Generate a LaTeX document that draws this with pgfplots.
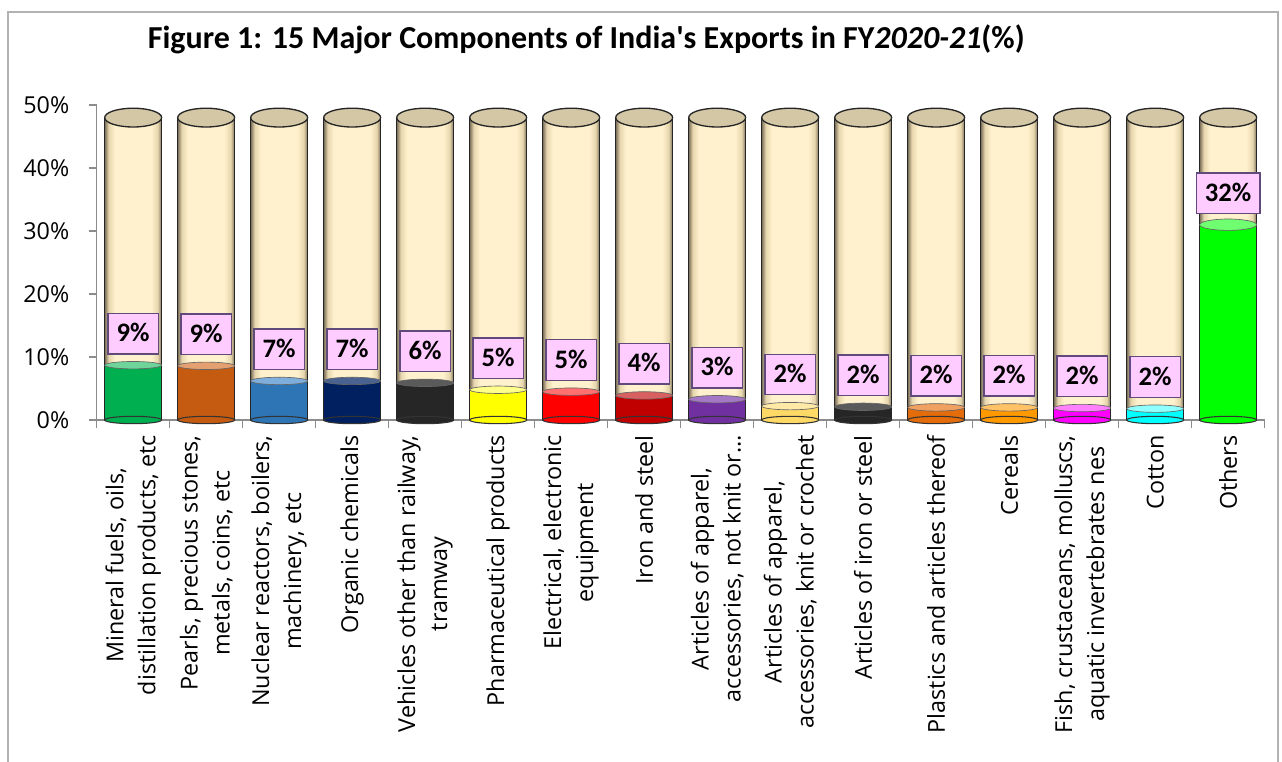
\documentclass[border=0pt]{standalone}
\usepackage{pgfplots}
\pgfplotsset{compat=1.18}
\usepackage{pgfplotstable}
\usepackage{fontspec}
\setmainfont{Open Sans}
\newfontfamily\calibri{Carlito}

\definecolor{cedge}{HTML}{7A6E58}
\definecolor{cmid2}{HTML}{E6D6AE}
\definecolor{cmid}{HTML}{FFF1CD}
\definecolor{ctop}{HTML}{D3C7A5}
\definecolor{lpink}{HTML}{FFCCFF}
\definecolor{lpurple}{HTML}{604A7B}
\definecolor{axgray}{HTML}{8C8C8C}

\definecolor{c0}{HTML}{00B050}\definecolor{t0}{HTML}{6FD49A}
\definecolor{c1}{HTML}{C55A11}\definecolor{t1}{HTML}{E4A070}
\definecolor{c2}{HTML}{2E75B6}\definecolor{t2}{HTML}{7EAEDB}
\definecolor{c3}{HTML}{002060}\definecolor{t3}{HTML}{4A6290}
\definecolor{c4}{HTML}{262626}\definecolor{t4}{HTML}{5A5A5A}
\definecolor{c5}{HTML}{FFFF00}\definecolor{t5}{HTML}{FFFF8A}
\definecolor{c6}{HTML}{FF0000}\definecolor{t6}{HTML}{FF7070}
\definecolor{c7}{HTML}{C00000}\definecolor{t7}{HTML}{D86060}
\definecolor{c8}{HTML}{7030A0}\definecolor{t8}{HTML}{A478C4}
\definecolor{c9}{HTML}{FFD966}\definecolor{t9}{HTML}{FFE9A6}
\definecolor{c10}{HTML}{262626}\definecolor{t10}{HTML}{5A5A5A}
\definecolor{c11}{HTML}{E46C0A}\definecolor{t11}{HTML}{F0A060}
\definecolor{c12}{HTML}{FF9900}\definecolor{t12}{HTML}{FFC266}
\definecolor{c13}{HTML}{FF00FF}\definecolor{t13}{HTML}{FF80FF}
\definecolor{c14}{HTML}{00FFFF}\definecolor{t14}{HTML}{90FFFF}
\definecolor{c15}{HTML}{00FF00}\definecolor{t15}{HTML}{70FF70}

\pgfdeclarehorizontalshading{cylbeige}{100bp}{color(0bp)=(cedge); color(25bp)=(cedge); color(28.5bp)=(cmid2); color(34bp)=(cmid); color(66bp)=(cmid); color(71.5bp)=(cmid2); color(75bp)=(cedge); color(100bp)=(cedge)}

\pgfplotstableread{
x v lab
0 8.7 9
1 8.6 9
2 6.2 7
3 6.2 7
4 5.9 6
5 4.8 5
6 4.5 5
7 3.9 4
8 3.3 3
9 2.2 2
10 2.1 2
11 2.0 2
12 2.0 2
13 1.9 2
14 1.8 2
15 31.0 32
}\datatable

\pgfplotstableread{
x v
0 48
1 48
2 48
3 48
4 48
5 48
6 48
7 48
8 48
9 48
10 48
11 48
12 48
13 48
14 48
15 48
}\bgtable

\begin{document}
\begin{tikzpicture}
\path[use as bounding box] (0,0) rectangle (961.5pt,570.75pt);
\draw[gray!60, line width=0.8pt] (6pt,-3pt) -- (6pt,561.75pt) -- (958.5pt,561.75pt) -- (958.5pt,-3pt);
\node[anchor=base, font=\calibri\bfseries\fontsize{24}{28}\selectfont] at (439.75pt,534pt)
  {Figure 1: 15 Major Components of India's Exports in FY\textit{2020-21}(\%)};
\begin{axis}[
  at={(72.5pt,255.75pt)}, anchor=south west,
  scale only axis, width=876pt, height=236.25pt,
  xmin=-0.5, xmax=15.5, ymin=0, ymax=50,
  clip=false,
  axis lines*=left,
  axis line style={axgray, line width=0.8pt},
  tick align=outside,
  ytick={0,10,20,30,40,50},
  yticklabels={0\%,10\%,20\%,30\%,40\%,50\%},
  ytick style={axgray, line width=0.8pt},
  major tick length=6pt,
  minor tick length=6pt,
  xtick={0,...,15},
  minor xtick={-0.5,0.5,...,15.5},
  major x tick style={draw=none},
  minor x tick style={axgray, line width=0.8pt},
  yticklabel style={font=\fontsize{17.5}{24}\selectfont, xshift=-11pt},
  xticklabel style={font=\fontsize{17.5}{24}\selectfont, yshift=-2pt, rotate=90, anchor=east, align=center},
  xticklabels={
    {Mineral fuels, oils,\\distillation products, etc},
    {Pearls, precious stones,\\metals, coins, etc},
    {Nuclear reactors, boilers,\\machinery, etc},
    {Organic chemicals},
    {Vehicles other than railway,\\tramway},
    {Pharmaceutical products},
    {Electrical, electronic\\equipment},
    {Iron and steel},
    {Articles of apparel,\\accessories, not knit or…},
    {Articles of apparel,\\accessories, knit or crochet},
    {Articles of iron or steel},
    {Plastics and articles thereof},
    {Cereals},
    {Fish, crustaceans, molluscs,\\aquatic invertebrates nes},
    {Cotton},
    {Others}},
  mybar/.style={ybar, bar width=0.78, bar shift=0pt, draw=none},
  bgbar/.style={ybar, bar width=0.78, bar shift=0pt, draw=none, shade, shading=cylbeige},
  botell/.style={only marks, mark=*, mark size=21.35pt, mark options={yscale=0.13}, draw=black!80, line width=0.8pt},
  topell/.style={only marks, mark=*, mark size=21.35pt, mark options={yscale=0.13}, draw=black!60, line width=0.5pt},
]
% background cylinders
\addplot[bgbar] coordinates {(0,48)};
\addplot[bgbar] coordinates {(1,48)};
\addplot[bgbar] coordinates {(2,48)};
\addplot[bgbar] coordinates {(3,48)};
\addplot[bgbar] coordinates {(4,48)};
\addplot[bgbar] coordinates {(5,48)};
\addplot[bgbar] coordinates {(6,48)};
\addplot[bgbar] coordinates {(7,48)};
\addplot[bgbar] coordinates {(8,48)};
\addplot[bgbar] coordinates {(9,48)};
\addplot[bgbar] coordinates {(10,48)};
\addplot[bgbar] coordinates {(11,48)};
\addplot[bgbar] coordinates {(12,48)};
\addplot[bgbar] coordinates {(13,48)};
\addplot[bgbar] coordinates {(14,48)};
\addplot[bgbar] coordinates {(15,48)};
% bottom ellipses
\addplot[botell, fill=c0] coordinates {(0,0)};
\addplot[botell, fill=c1] coordinates {(1,0)};
\addplot[botell, fill=c2] coordinates {(2,0)};
\addplot[botell, fill=c3] coordinates {(3,0)};
\addplot[botell, fill=c4] coordinates {(4,0)};
\addplot[botell, fill=c5] coordinates {(5,0)};
\addplot[botell, fill=c6] coordinates {(6,0)};
\addplot[botell, fill=c7] coordinates {(7,0)};
\addplot[botell, fill=c8] coordinates {(8,0)};
\addplot[botell, fill=c9] coordinates {(9,0)};
\addplot[botell, fill=c10] coordinates {(10,0)};
\addplot[botell, fill=c11] coordinates {(11,0)};
\addplot[botell, fill=c12] coordinates {(12,0)};
\addplot[botell, fill=c13] coordinates {(13,0)};
\addplot[botell, fill=c14] coordinates {(14,0)};
\addplot[botell, fill=c15] coordinates {(15,0)};
% cylinder outlines
\addplot[ybar, bar width=0.78, bar shift=0pt, fill=none, draw=black!85, line width=1pt] table[x=x, y=v] {\bgtable};
% coloured fills
\addplot[mybar, fill=c0] coordinates {(0,8.7)};
\addplot[mybar, fill=c1] coordinates {(1,8.6)};
\addplot[mybar, fill=c2] coordinates {(2,6.2)};
\addplot[mybar, fill=c3] coordinates {(3,6.2)};
\addplot[mybar, fill=c4] coordinates {(4,5.9)};
\addplot[mybar, fill=c5] coordinates {(5,4.8)};
\addplot[mybar, fill=c6] coordinates {(6,4.5)};
\addplot[mybar, fill=c7] coordinates {(7,3.9)};
\addplot[mybar, fill=c8] coordinates {(8,3.3)};
\addplot[mybar, fill=c9] coordinates {(9,2.2)};
\addplot[mybar, fill=c10] coordinates {(10,2.1)};
\addplot[mybar, fill=c11] coordinates {(11,2.0)};
\addplot[mybar, fill=c12] coordinates {(12,2.0)};
\addplot[mybar, fill=c13] coordinates {(13,1.9)};
\addplot[mybar, fill=c14] coordinates {(14,1.8)};
\addplot[mybar, fill=c15] coordinates {(15,31.0)};
% cylinder side lines over the fills
\addplot[ybar, bar width=0.78, bar shift=0pt, fill=none, draw=black!85, line width=0.8pt] table[x=x, y=v] {\datatable};
% fill-top ellipses
\addplot[topell, fill=t0] coordinates {(0,8.7)};
\addplot[topell, fill=t1] coordinates {(1,8.6)};
\addplot[topell, fill=t2] coordinates {(2,6.2)};
\addplot[topell, fill=t3] coordinates {(3,6.2)};
\addplot[topell, fill=t4] coordinates {(4,5.9)};
\addplot[topell, fill=t5] coordinates {(5,4.8)};
\addplot[topell, fill=t6] coordinates {(6,4.5)};
\addplot[topell, fill=t7] coordinates {(7,3.9)};
\addplot[topell, fill=t8] coordinates {(8,3.3)};
\addplot[topell, fill=t9] coordinates {(9,2.2)};
\addplot[topell, fill=t10] coordinates {(10,2.1)};
\addplot[topell, fill=t11] coordinates {(11,2.0)};
\addplot[topell, fill=t12] coordinates {(12,2.0)};
\addplot[topell, fill=t13] coordinates {(13,1.9)};
\addplot[topell, fill=t14] coordinates {(14,1.8)};
\addplot[topell, fill=t15, mark options={yscale=0.2}] coordinates {(15,31.0)};
% top ellipses of cylinders
\addplot[only marks, mark=*, mark size=21.35pt, mark options={yscale=0.33}, draw=black!85, line width=1pt, fill=ctop] table[x=x, y=v] {\bgtable};
% data labels
\addplot[draw=none, mark=none, point meta=explicit symbolic,
  nodes near coords={\pgfplotspointmeta\%},
  nodes near coords style={anchor=south, yshift=8pt, fill=lpink, draw=lpurple, line width=1pt,
    font=\calibri\bfseries\fontsize{20}{20}\selectfont, text=black, inner xsep=6.4pt,
    text height=13pt, text depth=1pt, inner ysep=8.2pt}]
  table[x=x, y=v, meta=lab] {\datatable};
\end{axis}
\end{tikzpicture}
\end{document}
